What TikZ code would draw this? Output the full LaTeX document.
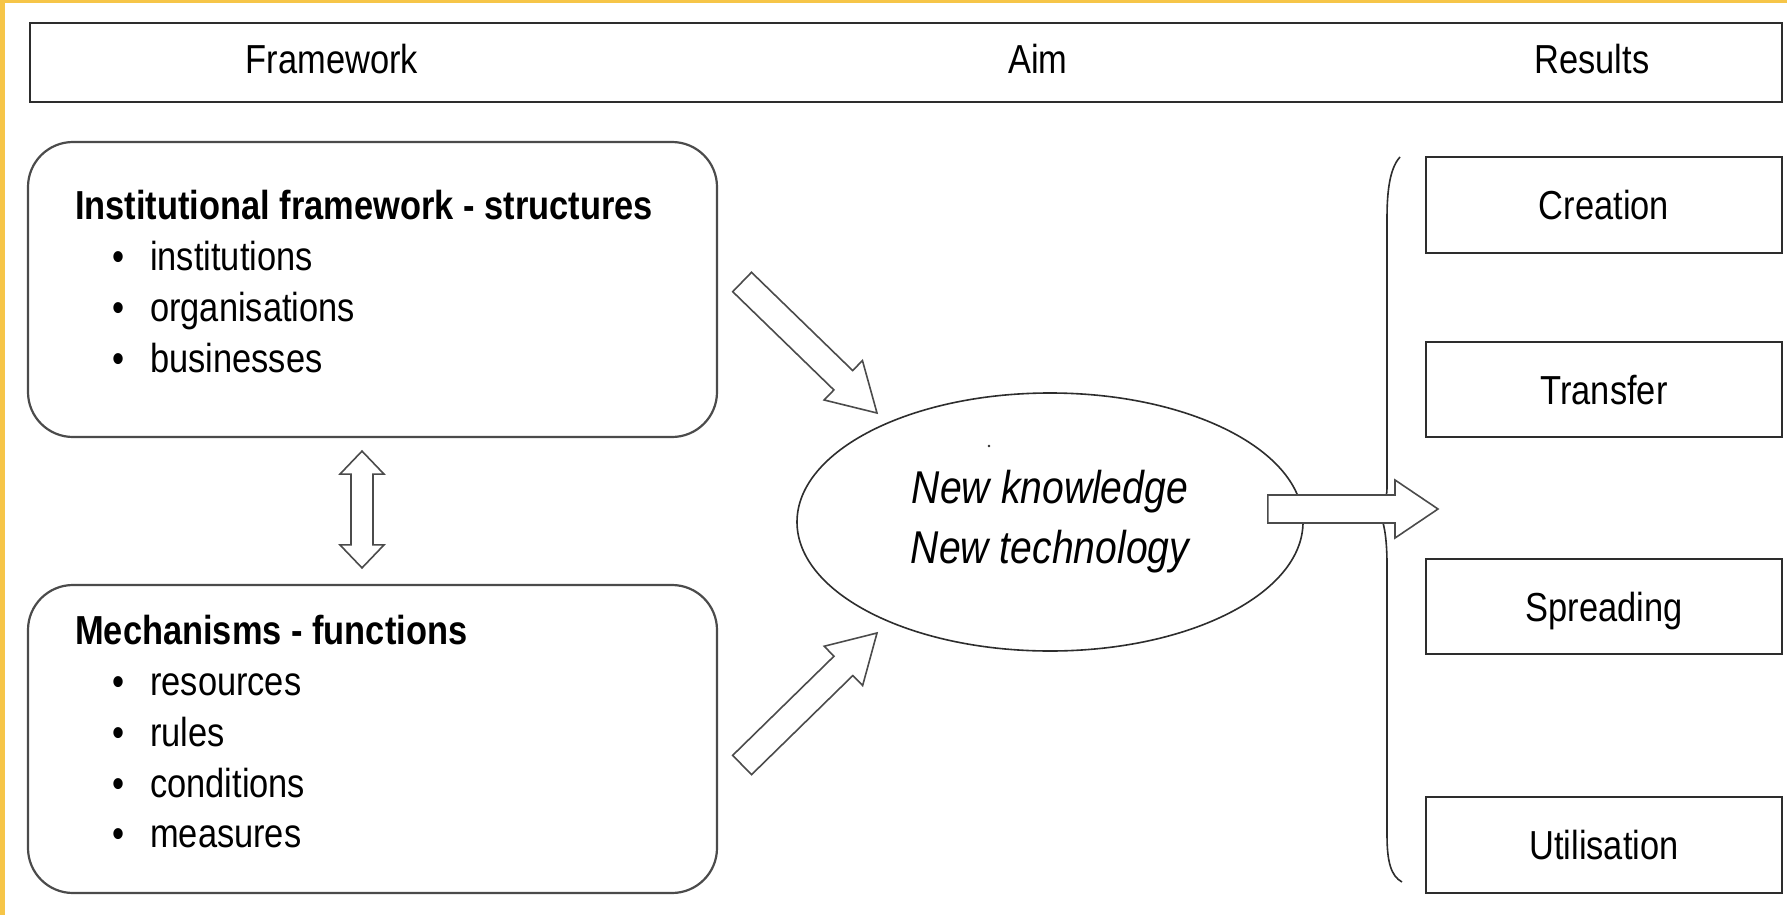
\documentclass[tikz,border=0pt]{standalone}
\usepackage{fontspec}
\setmainfont{Liberation Sans}[FakeStretch=0.85]
\usetikzlibrary{calc,shapes.geometric}
\definecolor{yel}{RGB}{246,197,72}
\definecolor{ln}{RGB}{45,45,45}
\definecolor{arl}{RGB}{75,75,75}
\newcommand\fsmain{\fontsize{40.5}{48}\selectfont}
\newcommand\fsital{\fontsize{46}{60}\selectfont\itshape}
\tikzset{
  hbox/.style={draw=ln, line width=2.2pt, rectangle, inner sep=0pt},
  rbox/.style={draw=arl, line width=2.2pt, rectangle, rounded corners=45pt, inner sep=0pt},
  resbox/.style={draw=ln, line width=2.2pt, rectangle, inner sep=0pt, minimum width=356pt,
     font=\fsmain, text height=29pt, text depth=0pt},
  txt/.style={inner sep=0pt, font=\fsmain},
  blk/.style={draw=arl, fill=white, line width=1.6pt, line join=miter},
  bracestyle/.style={draw=ln, line width=1.6pt},
}
% block arrow: #1 tail, #2 tip, #3 shaft half width, #4 head half width, #5 head length
\newcommand\blockarr[5]{%
  \coordinate (ba-h) at ($(#2)!#5!(#1)$);
  \filldraw[blk] ($(#1)!#3!90:(#2)$) -- ($(ba-h)!#3!-90:(#1)$) -- ($(ba-h)!#4!-90:(#1)$)
     -- (#2) -- ($(ba-h)!#4!90:(#1)$) -- ($(ba-h)!#3!90:(#1)$) -- ($(#1)!#3!-90:(#2)$) -- cycle;}
% double block arrow
\newcommand\dblarr[5]{%
  \coordinate (da-h1) at ($(#1)!#5!(#2)$);
  \coordinate (da-h2) at ($(#2)!#5!(#1)$);
  \filldraw[blk] (#1) -- ($(da-h1)!#4!90:(#2)$) -- ($(da-h1)!#3!90:(#2)$)
     -- ($(da-h2)!#3!-90:(#1)$) -- ($(da-h2)!#4!-90:(#1)$) -- (#2)
     -- ($(da-h2)!#4!90:(#1)$) -- ($(da-h2)!#3!90:(#1)$)
     -- ($(da-h1)!#3!-90:(#2)$) -- ($(da-h1)!#4!-90:(#2)$) -- cycle;}
\begin{document}
\begin{tikzpicture}[x=1pt,y=-1pt]
\useasboundingbox (0,0) rectangle (1787,915);
\fill[white] (0,0) rectangle (1787,915);
\fill[yel] (0,0) rectangle (4.5,915);
\fill[yel] (0,0) rectangle (1787,3);

% header
\node[hbox, minimum width=1752pt, minimum height=79pt] (hdr) at (906,62.5) {};
\node[txt, anchor=base] (hFw) at (332,74) {Framework};
\node[txt, anchor=base] (hAim) at (1038,74) {Aim};
\node[txt, anchor=base] (hRes) at (1592,74) {Results};

% left boxes
\node[rbox, minimum width=689pt, minimum height=295pt] (ubox) at (372.5,289.5) {};
\node[rbox, minimum width=689pt, minimum height=308pt] (lbox) at (372.5,739) {};

\node[txt, anchor=base west, font=\fsmain\bfseries] (ut) at (75,219) {Institutional framework - structures};
\node[txt, anchor=base west] (ub1) at (112,270) {•};
\node[txt, anchor=base west] (ui1) at (150,270) {institutions};
\node[txt, anchor=base west] (ub2) at (112,321) {•};
\node[txt, anchor=base west] (ui2) at (150,321) {organisations};
\node[txt, anchor=base west] (ub3) at (112,372) {•};
\node[txt, anchor=base west] (ui3) at (150,372) {businesses};

\node[txt, anchor=base west, font=\fsmain\bfseries] (lt) at (75,644) {Mechanisms - functions};
\node[txt, anchor=base west] (lb1) at (112,695) {•};
\node[txt, anchor=base west] (li1) at (150,695) {resources};
\node[txt, anchor=base west] (lb2) at (112,746) {•};
\node[txt, anchor=base west] (li2) at (150,746) {rules};
\node[txt, anchor=base west] (lb3) at (112,797) {•};
\node[txt, anchor=base west] (li3) at (150,797) {conditions};
\node[txt, anchor=base west] (lb4) at (112,847) {•};
\node[txt, anchor=base west] (li4) at (150,847) {measures};

% ellipse
\node[ellipse, draw=ln, line width=1.6pt, minimum width=506pt, minimum height=258pt,
      inner sep=0pt, align=center, font=\fsital] (ell) at (1050,522)
      {New knowledge\\New technology};
\fill[ln] (989,446) circle (1.3pt);

% result boxes
\node[resbox, minimum height=96pt] (rC) at (1604,205) {Creation};
\node[resbox, minimum height=95pt] (rT) at (1604,389.5) {Transfer};
\node[resbox, minimum height=95pt] (rS) at (1604,606.5) {Spreading};
\node[resbox, minimum height=96pt] (rU) at (1604,845) {Utilisation};

% brace
\draw[bracestyle] (1400,157) .. controls (1390,168) and (1387,190) .. (1387,218)
  -- (1387,488) .. controls (1387,500) and (1382,507) .. (1376,510)
  .. controls (1382,514) and (1387,530) .. (1387,565)
  -- (1387,835) .. controls (1387,862) and (1391,876) .. (1402,882);

% arrows
\coordinate (a1s) at ([xshift=24pt,yshift=7.5pt]ubox.east);
\coordinate (a1e) at (877,413);
\blockarr{a1s}{a1e}{13.5pt}{27.5pt}{47pt}
\coordinate (a2s) at ([xshift=24pt,yshift=-26pt]lbox.east);
\coordinate (a2e) at (877,633);
\blockarr{a2s}{a2e}{13.5pt}{27.5pt}{47pt}
\coordinate (a3s) at ([xshift=-36pt,yshift=13pt]ell.east);
\coordinate (a3e) at (1438,509);
\blockarr{a3s}{a3e}{14pt}{29pt}{43pt}
\coordinate (dA) at ([xshift=-10.5pt,yshift=-13pt]ubox.south);
\coordinate (dB) at ([xshift=-10.5pt,yshift=16pt]lbox.north);
\dblarr{dA}{dB}{11pt}{22pt}{23pt}
\end{tikzpicture}
\end{document}
